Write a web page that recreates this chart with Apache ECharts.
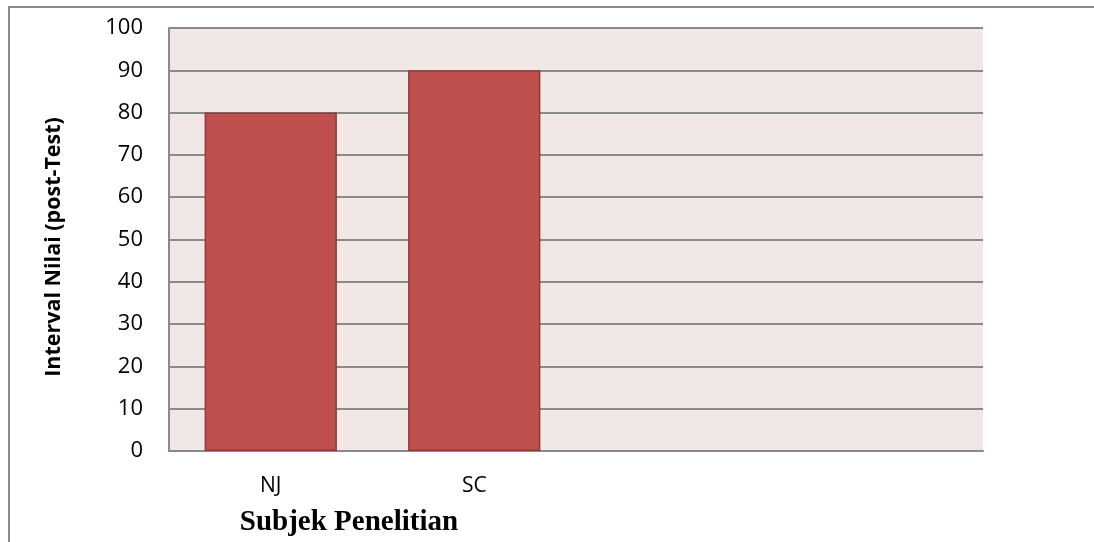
<!DOCTYPE html>
<html>
<head>
<meta charset="utf-8">
<script src="https://cdn.jsdelivr.net/npm/echarts@6/dist/echarts.min.js"></script>
<style>
  html, body { margin: 0; padding: 0; background: #ffffff; }
  #chart { width: 1094px; height: 542px; }
</style>
</head>
<body>
<div id="chart"></div>
<script>
// Post-test score per research subject
const categories = ['NJ', 'SC', '', ''];
const scores = [80, 90, null, null];
const yTicks = { min: 0, max: 100, interval: 10 };
const yTitle = 'Interval Nilai (post-Test)';
const xTitle = 'Subjek Penelitian';

const chart = echarts.init(document.getElementById('chart'), null, { renderer: 'canvas' });

const gridLine = { color: '#8a8a8a', width: 2 };

chart.setOption({
  animation: false,
  backgroundColor: '#ffffff',
  grid: {
    left: 169, top: 28, right: 111, bottom: 91,
    show: true, backgroundColor: '#f2e7e7', borderWidth: 0,
    containLabel: false
  },
  xAxis: {
    type: 'category',
    data: categories,
    axisLine: { show: true, lineStyle: gridLine },
    axisTick: { show: false },
    axisLabel: {
      color: '#000', fontFamily: 'Open Sans', fontSize: 21, margin: 25
    },
    splitLine: { show: false }
  },
  yAxis: {
    type: 'value',
    min: yTicks.min, max: yTicks.max, interval: yTicks.interval,
    axisLine: { show: true, lineStyle: gridLine },
    axisTick: { show: false },
    axisLabel: {
      color: '#000', fontFamily: 'Open Sans', fontSize: 22, margin: 26
    },
    splitLine: { show: true, lineStyle: gridLine }
  },
  series: [{
    type: 'bar',
    data: scores,
    barCategoryGap: '35%',
    itemStyle: {
      color: '#c0504d',
      borderColor: '#8e3b39',
      borderWidth: 1.5
    }
  }],
  graphic: [
    {
      type: 'rect',
      shape: { x: 9, y: 7, width: 1200, height: 700 },
      style: { fill: 'none', stroke: '#8a8a8a', lineWidth: 2 },
      silent: true
    },
    {
      type: 'text',
      x: 54, y: 247,
      rotation: Math.PI / 2,
      style: {
        text: yTitle,
        fill: '#000',
        font: 'bold 21.5px "Open Sans"',
        align: 'center',
        verticalAlign: 'middle'
      }
    },
    {
      type: 'text',
      x: 349, y: 523,
      style: {
        text: xTitle,
        fill: '#000',
        font: 'bold 29px "Liberation Serif"',
        align: 'center',
        verticalAlign: 'middle'
      }
    }
  ]
});
</script>
</body>
</html>
